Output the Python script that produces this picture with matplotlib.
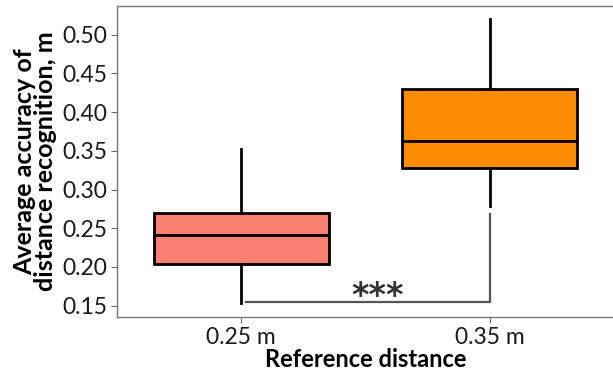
import matplotlib
matplotlib.use("Agg")
import matplotlib.pyplot as plt

# box statistics
categories = ["0.25 m", "0.35 m"]
whisker_low = [0.154, 0.279]
q1 = [0.2034, 0.3278]
median = [0.2416, 0.363]
q3 = [0.2693, 0.4294]
whisker_high = [0.352, 0.520]
box_colors = ["#FA8072", "#FF8C00"]

# significance bracket
bracket_y = 0.155
bracket_top = 0.268
stars = "***"

plt.rcParams["font.family"] = ["Lato", "DejaVu Sans"]

fig = plt.figure(figsize=(6.13, 3.73), dpi=100)
ax = fig.add_axes([0.1909, 0.1501, 0.8108, 0.833])

stats = []
for i in range(len(categories)):
    stats.append({"med": median[i], "q1": q1[i], "q3": q3[i],
                  "whislo": whisker_low[i], "whishi": whisker_high[i],
                  "fliers": [], "label": categories[i]})

bp = ax.bxp(stats, positions=range(len(categories)), widths=0.705,
            patch_artist=True, showcaps=False,
            boxprops=dict(linewidth=2, edgecolor="black"),
            medianprops=dict(color="black", linewidth=2),
            whiskerprops=dict(color="black", linewidth=2))
for patch, c in zip(bp["boxes"], box_colors):
    patch.set_facecolor(c)

# bracket between the two groups
ax.plot([0.02, 1, 1], [bracket_y, bracket_y, bracket_top],
        color="#555555", linewidth=1.6, solid_joinstyle="miter")
ax.text(0.55, bracket_y - 0.015, stars, ha="center", va="bottom",
        fontsize=24, color="#333333", fontfamily="DejaVu Sans", fontweight="bold")

ax.set_xlim(-0.5, 1.5)
ax.set_ylim(0.1354, 0.5367)
ax.set_yticks([0.15, 0.20, 0.25, 0.30, 0.35, 0.40, 0.45, 0.50])
ax.set_yticklabels(["%.2f" % v for v in ax.get_yticks()])
ax.set_xticks(range(len(categories)))
ax.set_xticklabels(categories)
ax.tick_params(labelsize=16.5, colors="#666666", labelcolor="#1a1a1a", length=4, pad=3)

for s in ax.spines.values():
    s.set_color("#777777")
    s.set_linewidth(1)

ax.set_ylabel("Average accuracy of\ndistance recognition, m",
              fontsize=18, fontweight="bold", linespacing=0.9, labelpad=4)
ax.set_xlabel("Reference distance", fontsize=17, fontweight="bold", labelpad=0)

plt.savefig("out.png", dpi=100)
plt.close("all")
